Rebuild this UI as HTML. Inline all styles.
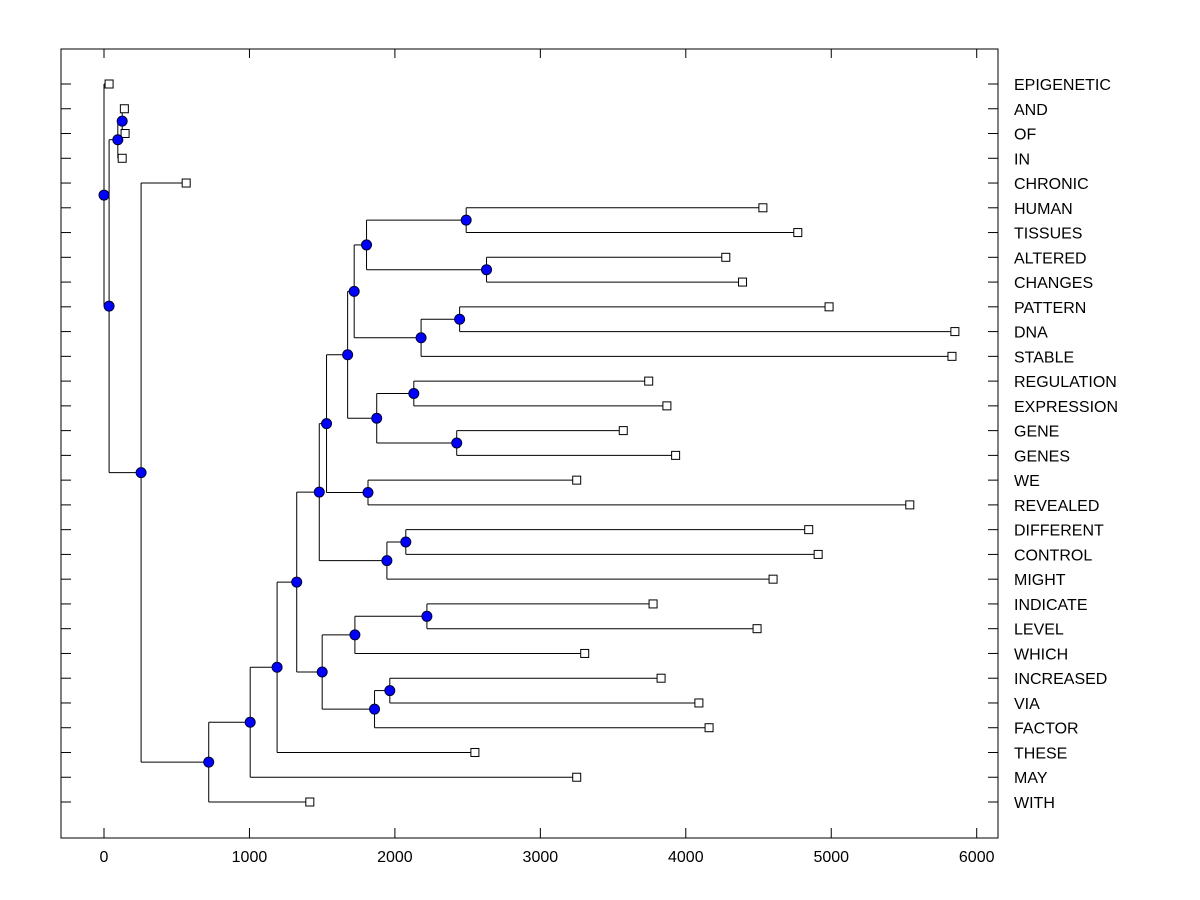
<!DOCTYPE html>
<html><head><meta charset="utf-8"><style>
html,body{margin:0;padding:0;background:#fff;}
svg{display:block;font-family:"Liberation Sans",Arial,sans-serif;}
</style></head><body>
<svg id="chart" width="1200" height="900" viewBox="0 0 1200 900" xmlns="http://www.w3.org/2000/svg">
<rect x="0" y="0" width="1200" height="900" fill="#fff"/>
<g id="marks"></g>
<g id="axes"></g>
</svg>
<script>
const leafNames = ["EPIGENETIC","AND","OF","IN","CHRONIC","HUMAN","TISSUES","ALTERED","CHANGES","PATTERN","DNA","STABLE","REGULATION","EXPRESSION","GENE","GENES","WE","REVEALED","DIFFERENT","CONTROL","MIGHT","INDICATE","LEVEL","WHICH","INCREASED","VIA","FACTOR","THESE","MAY","WITH"];
const leafValues = [35,140,145,125,565,4530,4770,4275,4390,4985,5850,5830,3745,3870,3570,3930,3250,5540,4845,4910,4600,3775,4490,3305,3830,4090,4160,2550,3250,1415];
const nodeIds =    ["n1","n2","n3","n4","n5","n6","n7","n8","n9","n10","n11","n12","n13","n14","n15","n16","n17","n18","n19","n20","n21","n22","n23","n24","n25","n26","n27","n28","n29"];
const nodeLeft =   ["AND","n1","EPIGENETIC","n2","CHRONIC","n7","n8","n9","n10","n11","n12","n13","n14","n15","HUMAN","ALTERED","GENE","n19","PATTERN","n21","REGULATION","WE","n24","DIFFERENT","INDICATE","n27","n25","n29","INCREASED"];
const nodeRight =  ["OF","IN","n4","n5","n6","WITH","MAY","THESE","n26","n23","n22","n20","n18","n16","TISSUES","CHANGES","GENES","STABLE","DNA","n17","EXPRESSION","REVEALED","MIGHT","CONTROL","LEVEL","n28","WHICH","FACTOR","VIA"];
const nodeHeights = [125,95,0,35,255,720,1005,1190,1325,1480,1530,1675,1720,1805,2490,2630,2425,2180,2445,1875,2130,1815,1945,2075,2220,1500,1725,1860,1965];
const xTicks = [0,1000,2000,3000,4000,5000,6000];

const NS="http://www.w3.org/2000/svg";
const L=61,R=998,T=49,B=838;
function xs(v){return 104+v*0.14545;}
function ys(i){return 84+i*(718/29);}
const marks=document.getElementById('marks');
const axes=document.getElementById('axes');
function mk(tag,attrs,parent){const e=document.createElementNS(NS,tag);for(const k in attrs)e.setAttribute(k,attrs[k]);parent.appendChild(e);return e;}

const pos={};
leafNames.forEach((n,i)=>{pos[n]={x:xs(leafValues[i]),y:ys(i),leaf:true};});
const pending=nodeIds.map((id,i)=>i);
let guard=0;
while(pending.length&&guard<2000){guard++;
 const i=pending.shift();const a=pos[nodeLeft[i]],b=pos[nodeRight[i]];
 if(!a||!b){pending.push(i);continue;}
 pos[nodeIds[i]]={x:xs(nodeHeights[i]),y:(a.y+b.y)/2,leaf:false,a:a,b:b};
}
nodeIds.forEach((id,i)=>{const p=pos[id];if(!p)return;
 const g=mk('g',{},marks);
 
 
 mk('line',{x1:p.x,y1:p.a.y,x2:p.x,y2:p.b.y,stroke:'#000','stroke-width':1},g);
 [p.a,p.b].forEach(c=>mk('line',{x1:p.x,y1:c.y,x2:c.x,y2:c.y,stroke:'#000','stroke-width':1},g));
});
leafNames.forEach((n,i)=>{const p=pos[n];
 const r=mk('rect',{x:p.x-4,y:p.y-4,width:8,height:8,fill:'#fff',stroke:'#000','stroke-width':1},marks);
 
 
});
nodeIds.forEach(id=>{const p=pos[id];if(!p)return;
 const c=mk('circle',{cx:p.x,cy:p.y,r:5,fill:'#0000ff',stroke:'#000033','stroke-width':1},marks);
 
 
});
const fr=mk('rect',{x:L,y:T,width:R-L,height:B-T,fill:'none',stroke:'#000','stroke-width':1},axes);


xTicks.forEach(v=>{const x=xs(v);
 mk('line',{x1:x,y1:B,x2:x,y2:B-10,stroke:'#000'},axes);
 mk('line',{x1:x,y1:T,x2:x,y2:T+9,stroke:'#000'},axes);
 const t=mk('text',{x:x,y:862,'text-anchor':'middle','font-size':16,fill:'#000'},axes);
 t.textContent=v;
 
 
});
leafNames.forEach((n,i)=>{const y=ys(i);
 mk('line',{x1:L,y1:y,x2:L+10,y2:y,stroke:'#000'},axes);
 mk('line',{x1:R,y1:y,x2:R-10,y2:y,stroke:'#000'},axes);
 const t=mk('text',{x:1014,y:y+6,'font-size':16,fill:'#000'},axes);
 t.textContent=n;
 
 
});
</script>
</body></html>
